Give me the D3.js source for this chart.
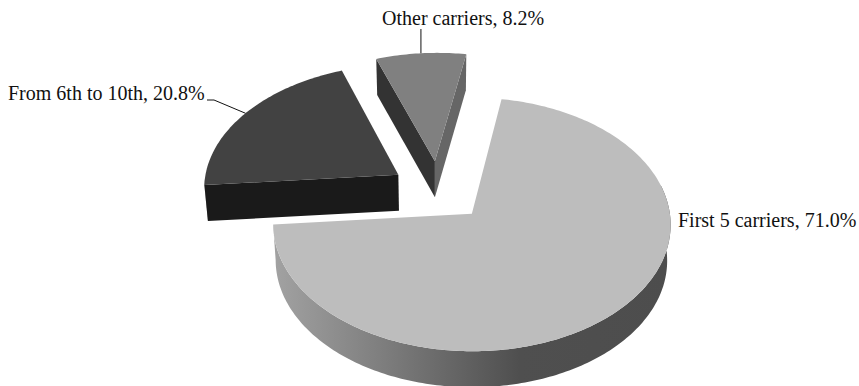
<!DOCTYPE html>
<html><head><meta charset="utf-8">
<script src="https://cdn.jsdelivr.net/npm/d3@7"></script>
<style>html,body{margin:0;padding:0;background:#fff}svg{display:block}text{font-family:"Liberation Serif",serif;font-size:20px;fill:#111}</style>
</head><body><svg id="c" width="859" height="386"></svg>
<script>
const categories = ["First 5 carriers", "From 6th to 10th", "Other carriers"];
const values = [71.0, 20.8, 8.2];
const topColors = ["#bdbdbd", "#424242", "#808080"];
const startCutColors = [null, "#1a1a1a", "#333333"];
const endCutColors = [null, null, "#666666"];

const W = 859, H = 386;
const cx = 438.7, cy = 191, R = 195, tilt = 0.626, persp = 0.083, shear = 0.018;
const explode = 0.25, depth = 36, baseShrink = 0.985;
const startDeg = 9.5;

const svg = d3.select("#c");
const defs = svg.append("defs");
const grad = defs.append("linearGradient").attr("id", "wall").attr("gradientUnits", "userSpaceOnUse")
  .attr("x1", 274).attr("x2", 670).attr("y1", 0).attr("y2", 0);
[[0, "#a2a2a2"], [0.28, "#7d7d7d"], [0.5, "#5f5f5f"], [0.62, "#4f4f4f"], [1, "#4d4d4d"]]
  .forEach(([o, c]) => grad.append("stop").attr("offset", o).attr("stop-color", c));

const slices = d3.pie().sort(null).value(d => d)
  .startAngle(startDeg * Math.PI / 180)
  .endAngle((startDeg + 360) * Math.PI / 180)(values);

function project(X, Y) {
  const f = 1 / (1 + persp * Y);
  const dy = Y * R * tilt * f;
  return [cx + X * R * f + shear * dy, cy - dy];
}
const toBase = ([x, y]) => [cx + (x - cx) * baseShrink, y + depth];
const line = d3.line();

slices.forEach(s => {
  const mid = (s.startAngle + s.endAngle) / 2;
  const ox = explode * Math.sin(mid), oy = explode * Math.cos(mid);
  s.apex = project(ox, oy);
  s.rim = a => project(ox + Math.sin(a), oy + Math.cos(a));
  s.mid = mid;
});

slices.forEach((s, i) => {
  const step = Math.PI / 180;
  const angles = d3.range(s.startAngle, s.endAngle, step).concat([s.endAngle]);
  const top = angles.map(s.rim);
  const g = svg.append("g");

  // outer wall: only the near part of the rim
  const near = angles.filter(a => {
    const n = ((a % (2 * Math.PI)) + 2 * Math.PI) % (2 * Math.PI);
    return n > Math.PI * 0.42 && n < Math.PI * 1.5;
  });
  if (near.length > 1) {
    const t = near.map(s.rim);
    g.append("path").attr("d", line(t.concat(t.map(toBase).reverse())) + "Z")
      .attr("fill", "url(#wall)");
  }
  // cut faces
  const startPt = s.rim(s.startAngle), endPt = s.rim(s.endAngle);
  if (endCutColors[i]) {
    g.append("path").attr("d", line([s.apex, endPt, toBase(endPt), toBase(s.apex)]) + "Z")
      .attr("fill", endCutColors[i]);
  }
  if (startCutColors[i]) {
    g.append("path").attr("d", line([s.apex, startPt, toBase(startPt), toBase(s.apex)]) + "Z")
      .attr("fill", startCutColors[i]);
  }
  // top face
  g.append("path").attr("d", line([s.apex].concat(top)) + "Z").attr("fill", topColors[i]);
});

// labels and leader lines
const labelFmt = d3.format(".1f");
const labelPos = [[678, 227], [8, 100], [382, 25]];
categories.forEach((c, i) => {
  svg.append("text").attr("x", labelPos[i][0]).attr("y", labelPos[i][1])
    .text(`${c}, ${labelFmt(values[i])}%`);
});
const anchor1 = slices[1].rim(slices[1].mid);
svg.append("path").attr("d", line([[207, 100], [214, 100], anchor1]))
  .attr("fill", "none").attr("stroke", "#111").attr("stroke-width", 1);
const anchor2 = slices[2].rim(slices[2].mid);
svg.append("path").attr("d", line([[anchor2[0], 29], [anchor2[0], anchor2[1]]]))
  .attr("fill", "none").attr("stroke", "#111").attr("stroke-width", 1);
</script></body></html>
